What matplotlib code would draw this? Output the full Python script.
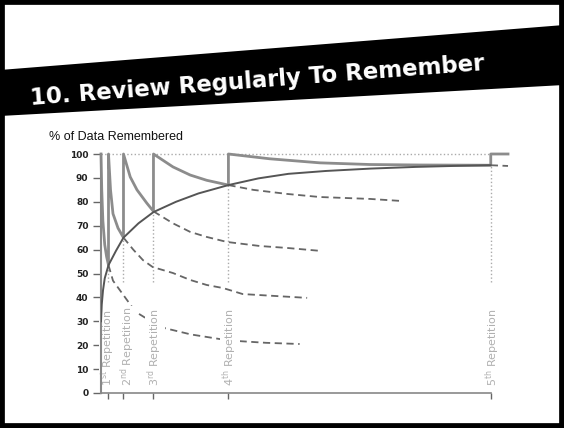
import matplotlib
matplotlib.use("Agg")
import matplotlib.pyplot as plt
from matplotlib.patches import Polygon, Rectangle

# repetition days and retention at each repetition
rep_days = [1, 3, 7, 17, 52]
rep_labels = ["1$^{\\mathrm{st}}$ Repetition", "2$^{\\mathrm{nd}}$ Repetition",
              "3$^{\\mathrm{rd}}$ Repetition", "4$^{\\mathrm{th}}$ Repetition",
              "5$^{\\mathrm{th}}$ Repetition"]
rep_values = [53.5, 65, 76, 87, 95.3]

# solid forgetting curves between repetitions (saw-tooth)
saw_x = [0, 0.1, 0.25, 0.5, 0.75, 1,
         1, 1.27, 1.6, 2.27, 3,
         3, 3.9, 4.8, 6.1, 7,
         7, 9.6, 11.9, 14.1, 17,
         17, 22.5, 29.2, 35.9, 42.5, 52,
         52, 54.3]
saw_y = [100, 85, 72, 62, 57, 53.5,
         100, 85, 75, 69, 65,
         100, 90.4, 85, 79.5, 76,
         100, 94.6, 91.2, 89, 87,
         100, 98, 96.3, 95.6, 95.4, 95.3,
         100, 100]

# envelope curve (retention after repeated reviews)
env_x = [0, 0.1, 0.27, 0.5, 1, 2, 3, 5, 7, 10, 13, 17, 21, 25, 30, 36, 42, 47, 52]
env_y = [30, 37, 43, 48, 53.5, 59.5, 65, 71, 75.7, 80, 83.5, 87, 89.8, 91.7, 92.9, 93.9, 94.6, 95, 95.3]

# dashed curves: forgetting without the next repetition
d1_x = [1, 1.6, 4.6, 7.9, 12, 17, 22, 26.5]
d1_y = [53.5, 47, 34, 27.6, 24.5, 22, 21, 20.5]
d2_x = [3, 4.3, 5.6, 6.9, 9.6, 11.9, 14.1, 16.3, 18.9, 27.5]
d2_y = [65, 60, 55.6, 52.7, 50.2, 47.3, 45.2, 43.9, 41.4, 39.8]
d3_x = [7, 9.6, 11.9, 14.1, 16.8, 21.2, 24.8, 29.5]
d3_y = [76, 71, 67.4, 65.3, 63.2, 61.5, 60.7, 59.4]
d4_x = [17, 20.3, 24.8, 29.2, 35.9, 40.3]
d4_y = [87, 85, 83.3, 82, 81.2, 80.3]
d5_x = [52, 54.3]
d5_y = [95.3, 95]

yticks = list(range(0, 101, 10))

fig = plt.figure(figsize=(5.64, 4.28), dpi=100)
ax = fig.add_axes([101/564, 35/428, 407/564, 239/428])
ax.set_xlim(0, 54.3)
ax.set_ylim(0, 100)

# reference dotted lines
ax.plot([0, 52], [100, 100], color="#aaaaaa", lw=1, ls=":", clip_on=False)
for d, v in zip(rep_days, rep_values):
    ax.plot([d, d], [46.5, v], color="#aaaaaa", lw=1, ls=":", zorder=1)

dash_kw = dict(color="#666666", lw=1.3, dashes=(4, 2.5), zorder=2, clip_on=False)
for xs, ys in [(d1_x, d1_y), (d2_x, d2_y), (d3_x, d3_y), (d4_x, d4_y), (d5_x, d5_y)]:
    ax.plot(xs, ys, **dash_kw)

ax.plot(saw_x, saw_y, color="#8c8c8c", lw=2, zorder=3, clip_on=False)
ax.plot(env_x, env_y, color="#555555", lw=1.4, zorder=4)

# small sideways nudges keep the first two labels apart
nudge = [-0.05, 0.5, 0.2, 0.2, 0.2]
for d, lb, n in zip(rep_days, rep_labels, nudge):
    ax.text(d + n, 3, lb, rotation=90, ha="center", va="bottom", fontsize=8,
            color="#b0b0b0", zorder=2.2,
            bbox=dict(boxstyle="square,pad=0.05", facecolor="white", edgecolor="none"))

for s in ["top", "right"]:
    ax.spines[s].set_visible(False)
ax.spines["left"].set_color("#888888")
ax.spines["left"].set_linewidth(1.5)
ax.spines["left"].set_zorder(3)
ax.spines["bottom"].set_color("#888888")
ax.spines["bottom"].set_linewidth(1.2)
ax.spines["bottom"].set_bounds(0, 52)
ax.set_xticks(rep_days)
ax.set_xticklabels([])
ax.tick_params(axis="x", length=4, color="#666666", width=1)
ax.set_yticks(yticks)
ax.set_yticklabels([str(v) for v in yticks], fontsize=6.5, fontweight="bold", color="#222222")
ax.tick_params(axis="y", length=6, color="#666666", width=1, pad=3)

fig.text(49/564, 1 - 137/428, "% of Data Remembered", fontsize=9,
         family="Liberation Sans", va="center", ha="left", color="#111111")

# title banner
band = Polygon([(0, 1 - 70/428), (1, 1 - 25/428), (1, 1 - 85/428), (0, 1 - 116/428)],
               closed=True, facecolor="black", edgecolor="none", transform=fig.transFigure)
fig.patches.append(band)
fig.text(257/564, 1 - 81/428, "10. Review Regularly To Remember", fontsize=16.5,
         fontweight="bold", color="white", ha="center", va="center",
         rotation=4.4, rotation_mode="anchor")

fig.patches.append(Rectangle((0, 0), 1, 1, transform=fig.transFigure,
                             facecolor="none", edgecolor="black", lw=7))

fig.savefig("out.png", dpi=100)
